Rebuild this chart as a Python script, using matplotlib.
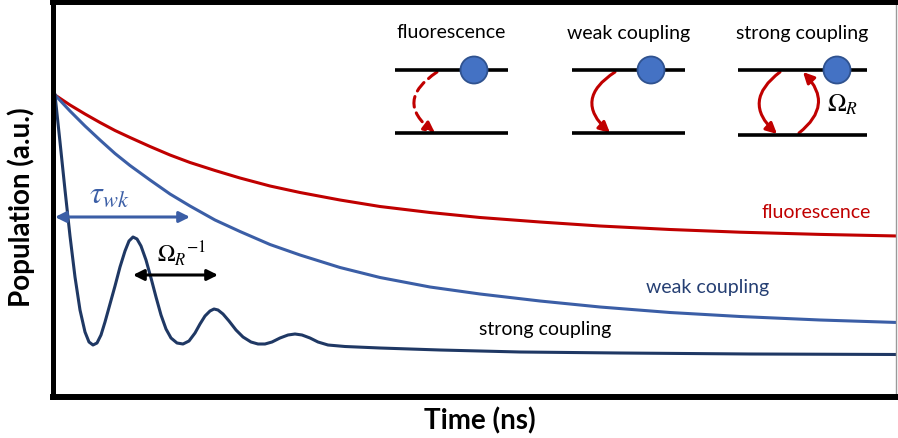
import matplotlib.pyplot as plt
from matplotlib.patches import FancyArrowPatch, Circle

plt.rcParams['font.family'] = ['Lato', 'DejaVu Sans']
plt.rcParams['mathtext.fontset'] = 'stix'

# time (a.u.) and population (a.u.) for the three regimes
t_fluo = [2, 17, 32, 47, 62, 77, 97, 117, 137, 162, 187, 217, 247, 287, 327,
          377, 427, 487, 547, 617, 687, 767, 845]
pop_fluo = [302, 292, 283, 274.5, 266.5, 259.5, 250.5, 242, 234.5, 226.5, 219, 211, 204.5,
            197, 190.5, 184.5, 179.5, 175, 171, 167.5, 164.8, 162.6, 161]

t_weak = [2, 17, 32, 47, 62, 77, 97, 117, 137, 162, 187, 217, 247, 287, 327,
          377, 427, 487, 547, 617, 687, 767, 845]
pop_weak = [302, 286, 271, 257, 243.5, 231.5, 217, 203, 191, 177, 165.5, 152.5, 142,
            129.5, 119.5, 110, 103, 96, 90, 84.5, 80.5, 77, 74.5]

t_strong = [2, 7, 12, 17, 22, 27, 32, 36, 40, 44,
            48, 52, 57, 62, 67, 72, 76, 80, 84, 88,
            93, 98, 103, 108, 113, 118, 124, 130, 136, 142,
            147, 152, 157, 161, 165, 170, 176, 183, 190, 198,
            205, 212, 219, 227, 235, 242, 249, 257, 265, 275,
            292, 327, 387, 467, 567, 697, 845]
pop_strong = [302, 255, 207, 161, 120, 87, 65, 55, 52, 54,
              62, 75, 93, 111, 130, 146, 156, 160, 158, 151,
              137, 119, 100, 82, 68, 59, 54, 53, 56, 64,
              73, 81, 86, 88, 87, 83, 76, 67, 60, 55,
              53, 53, 55, 59, 62, 63, 62, 59, 55, 52,
              50.5, 49, 47, 45, 44, 43, 42.5]

# level-scheme panels (figure pixels)
panel_titles = ["fluorescence", "weak coupling", "strong coupling"]
panel_left = [395, 572, 738]
panel_right = [508, 685, 867]
panel_dot = [474, 651, 837]
level_top = 70
level_bottom = [133, 133, 135]

red = '#C00000'
blue = '#3B5EA6'
navy = '#1F3864'
label_blue = '#253F73'

fig = plt.figure(figsize=(8.98, 4.38), dpi=100)
ax = fig.add_axes([53 / 898, 41 / 438, 843.5 / 898, 395 / 438])

ax.plot(t_fluo, pop_fluo, color=red, lw=2.2)
ax.plot(t_weak, pop_weak, color=blue, lw=2.2)
ax.plot(t_strong, pop_strong, color=navy, lw=2.2)

ax.set_xlim(0, 843.5)
ax.set_ylim(0, 395)
ax.set_xticks([])
ax.set_yticks([])
ax.spines['left'].set_linewidth(3.6)
ax.spines['bottom'].set_linewidth(4.3)
ax.spines['top'].set_linewidth(4.3)
ax.spines['right'].set_linewidth(1)
ax.spines['right'].set_color('#9a9a9a')

ax.set_xlabel('Time (ns)', fontsize=20, fontweight='bold')
ax.xaxis.set_label_coords(0.506, -0.026)
ax.set_ylabel('Population (a.u.)', fontsize=20, fontweight='bold')
ax.yaxis.set_label_coords(-0.021, 0.48)

# curve labels
ax.text(763.5, 185, 'fluorescence', color=red, fontsize=14, ha='center', va='center')
ax.text(655, 109, 'weak coupling', color=label_blue, fontsize=14, ha='center', va='center')
ax.text(492, 67, 'strong coupling', color='black', fontsize=14, ha='center', va='center')

# decay time and Rabi period markers
ax.annotate('', xy=(137, 180), xytext=(2, 180),
            arrowprops=dict(arrowstyle='<|-|>', color=blue, lw=2.2,
                            mutation_scale=16, shrinkA=0, shrinkB=0))
ax.text(56, 194, r'$\tau_{wk}$', color=blue, fontsize=23, ha='center', va='baseline')
ax.annotate('', xy=(165, 122), xytext=(80, 122),
            arrowprops=dict(arrowstyle='<|-|>', color='black', lw=2.2,
                            mutation_scale=16, shrinkA=0, shrinkB=0))
ax.text(104, 135, r'${\Omega_R}^{-1}$', color='black', fontsize=17, ha='left', va='baseline')

# level schemes drawn on a pixel overlay
dg = fig.add_axes([0, 0, 1, 1])
dg.set_xlim(0, 898)
dg.set_ylim(438, 0)
dg.axis('off')

for i, title in enumerate(panel_titles):
    xl, xr = panel_left[i], panel_right[i]
    dg.text((xl + xr) / 2, 33, title, fontsize=14, ha='center', va='center')
    dg.plot([xl, xr], [level_top, level_top], color='black', lw=2.6, solid_capstyle='butt')
    dg.plot([xl, xr], [level_bottom[i], level_bottom[i]], color='black', lw=2.6,
            solid_capstyle='butt')
    dg.add_patch(Circle((panel_dot[i], level_top), 13.5, fc='#4472C4', ec='#2F528F',
                        lw=1.3, zorder=3))

arrow_kw = dict(arrowstyle='-|>', mutation_scale=16, lw=2.2, color=red,
                shrinkA=0, shrinkB=0)
dg.add_patch(FancyArrowPatch((437, 72), (435, 133), connectionstyle='arc3,rad=0.7',
                             linestyle=(0, (3.5, 2)), **arrow_kw))
dg.add_patch(FancyArrowPatch((615, 72), (610, 133), connectionstyle='arc3,rad=0.65',
                             **arrow_kw))
dg.add_patch(FancyArrowPatch((780, 72), (777, 134), connectionstyle='arc3,rad=0.6',
                             **arrow_kw))
dg.add_patch(FancyArrowPatch((799, 133), (803, 72), connectionstyle='arc3,rad=0.55',
                             **arrow_kw))
dg.text(827, 112, r'$\Omega_R$', fontsize=18, ha='left', va='baseline')

fig.savefig('out.png', dpi=100)
